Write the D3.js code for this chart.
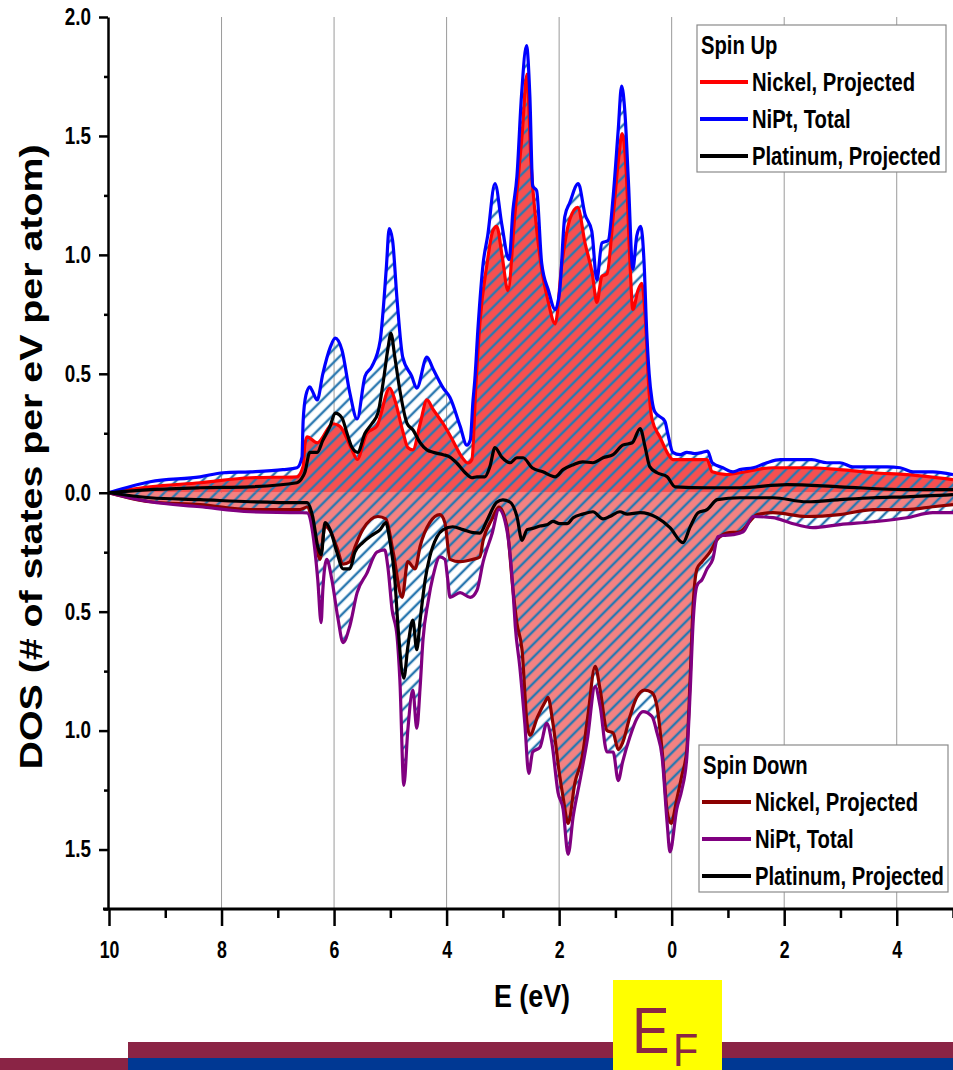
<!DOCTYPE html>
<html><head><meta charset="utf-8">
<script src="https://cdn.jsdelivr.net/npm/d3@7"></script>
<style>body{margin:0;background:#fff}svg{display:block}</style>
</head><body>
<svg id="chart" width="953" height="1070"></svg>
<script>
// ---------- DATA (E in eV, DOS in states/eV/atom; spin down negative) ----------
const upTotal = [[-10,0],[-9.27,0.046],[-8.38,0.067],[-7.97,0.084],[-7.49,0.088],[-6.91,0.097],[-6.66,0.105],[-6.57,0.15],[-6.55,0.30],[-6.50,0.41],[-6.43,0.445],[-6.39,0.43],[-6.30,0.39],[-6.20,0.50],[-6.07,0.61],[-5.98,0.65],[-5.86,0.60],[-5.72,0.42],[-5.59,0.31],[-5.45,0.49],[-5.33,0.53],[-5.18,0.64],[-5.13,0.76],[-5.07,0.95],[-5.02,1.11],[-4.96,1.06],[-4.88,0.81],[-4.78,0.57],[-4.62,0.49],[-4.53,0.44],[-4.35,0.57],[-4.24,0.52],[-4.06,0.44],[-3.94,0.40],[-3.76,0.28],[-3.64,0.20],[-3.58,0.22],[-3.53,0.39],[-3.50,0.47],[-3.44,0.70],[-3.35,0.965],[-3.27,1.08],[-3.14,1.30],[-3.02,1.13],[-2.89,0.98],[-2.82,1.19],[-2.75,1.33],[-2.67,1.665],[-2.58,1.88],[-2.52,1.665],[-2.47,1.29],[-2.40,1.27],[-2.31,0.965],[-2.19,0.85],[-2.07,0.77],[-1.99,0.85],[-1.90,1.16],[-1.81,1.22],[-1.66,1.30],[-1.54,1.17],[-1.42,1.10],[-1.33,0.895],[-1.24,1.05],[-1.13,1.06],[-1.04,1.245],[-0.95,1.525],[-0.89,1.71],[-0.83,1.595],[-0.77,1.315],[-0.69,0.94],[-0.62,1.08],[-0.55,1.12],[-0.49,0.965],[-0.445,0.685],[-0.40,0.50],[-0.35,0.39],[-0.30,0.34],[-0.12,0.30],[-0.07,0.25],[0.02,0.17],[0.15,0.16],[0.27,0.17],[0.41,0.165],[0.55,0.17],[0.64,0.175],[0.72,0.126],[0.91,0.105],[1.09,0.088],[1.21,0.097],[1.45,0.105],[1.69,0.126],[1.93,0.139],[2.16,0.139],[2.49,0.139],[2.76,0.126],[2.99,0.126],[3.22,0.109],[3.52,0.109],[3.83,0.109],[4.06,0.105],[4.29,0.088],[4.64,0.088],[5.0,0.076]];
const upNickel = [[-10,0],[-9.27,0.025],[-8.38,0.042],[-7.49,0.063],[-6.66,0.067],[-6.55,0.11],[-6.52,0.20],[-6.48,0.235],[-6.30,0.21],[-6.02,0.29],[-5.90,0.28],[-5.68,0.18],[-5.59,0.14],[-5.42,0.25],[-5.24,0.28],[-5.01,0.44],[-4.92,0.39],[-4.78,0.26],[-4.69,0.19],[-4.60,0.18],[-4.47,0.29],[-4.35,0.39],[-4.24,0.35],[-4.06,0.29],[-3.89,0.22],[-3.73,0.15],[-3.62,0.125],[-3.55,0.14],[-3.48,0.45],[-3.41,0.71],[-3.28,0.965],[-3.18,1.10],[-3.11,1.12],[-3.01,0.99],[-2.91,0.85],[-2.79,1.16],[-2.66,1.50],[-2.57,1.76],[-2.50,1.39],[-2.43,1.18],[-2.31,0.94],[-2.20,0.81],[-2.07,0.71],[-1.95,0.965],[-1.81,1.15],[-1.67,1.20],[-1.54,1.05],[-1.41,0.92],[-1.33,0.80],[-1.24,0.91],[-1.15,0.92],[-1.04,1.16],[-0.95,1.39],[-0.88,1.51],[-0.81,1.36],[-0.74,0.965],[-0.69,0.77],[-0.60,0.85],[-0.53,0.88],[-0.47,0.74],[-0.40,0.42],[-0.35,0.31],[-0.21,0.235],[-0.03,0.15],[0.02,0.139],[0.63,0.139],[0.72,0.088],[0.98,0.076],[1.21,0.084],[1.80,0.105],[2.40,0.105],[2.99,0.097],[3.58,0.084],[4.18,0.076],[5.0,0.055]];
const upPlatinum = [[-10,0],[-9.27,0.013],[-8.38,0.021],[-7.49,0.025],[-6.66,0.042],[-6.55,0.07],[-6.52,0.085],[-6.43,0.17],[-6.30,0.17],[-6.20,0.22],[-6.07,0.28],[-5.98,0.335],[-5.86,0.315],[-5.77,0.25],[-5.68,0.19],[-5.58,0.17],[-5.45,0.25],[-5.33,0.29],[-5.22,0.335],[-5.13,0.46],[-5.04,0.61],[-4.99,0.67],[-4.92,0.57],[-4.83,0.43],[-4.70,0.29],[-4.60,0.265],[-4.47,0.21],[-4.35,0.18],[-4.24,0.17],[-4.06,0.16],[-3.94,0.15],[-3.82,0.125],[-3.67,0.084],[-3.55,0.063],[-3.46,0.067],[-3.32,0.067],[-3.23,0.11],[-3.14,0.19],[-3.02,0.15],[-2.87,0.126],[-2.75,0.147],[-2.64,0.147],[-2.48,0.105],[-2.29,0.088],[-2.07,0.067],[-1.93,0.097],[-1.75,0.118],[-1.58,0.13],[-1.40,0.126],[-1.22,0.147],[-1.04,0.16],[-0.87,0.20],[-0.70,0.21],[-0.56,0.27],[-0.47,0.19],[-0.39,0.11],[-0.26,0.084],[-0.08,0.067],[0.06,0.025],[0.63,0.021],[1.21,0.021],[2.05,0.034],[2.99,0.025],[4.18,0.013],[5.0,0.013]];
const downTotal = [[-10,0],[-9.27,-0.038],[-8.38,-0.059],[-7.49,-0.08],[-6.61,-0.084],[-6.48,-0.085],[-6.38,-0.168],[-6.29,-0.365],[-6.23,-0.546],[-6.20,-0.41],[-6.13,-0.28],[-6.04,-0.365],[-5.93,-0.53],[-5.84,-0.63],[-5.72,-0.56],[-5.59,-0.42],[-5.42,-0.34],[-5.24,-0.25],[-5.10,-0.24],[-5.04,-0.32],[-4.97,-0.49],[-4.88,-0.605],[-4.83,-0.79],[-4.76,-1.23],[-4.69,-1.0],[-4.60,-0.83],[-4.53,-0.99],[-4.47,-0.815],[-4.42,-0.62],[-4.33,-0.46],[-4.24,-0.35],[-4.12,-0.27],[-4.03,-0.28],[-3.98,-0.365],[-3.94,-0.44],[-3.76,-0.42],[-3.58,-0.44],[-3.46,-0.41],[-3.35,-0.29],[-3.19,-0.17],[-3.07,-0.07],[-2.93,-0.155],[-2.82,-0.41],[-2.78,-0.56],[-2.70,-0.73],[-2.61,-0.97],[-2.54,-1.18],[-2.47,-1.09],[-2.34,-1.07],[-2.22,-0.97],[-2.13,-1.05],[-2.02,-1.26],[-1.93,-1.33],[-1.84,-1.52],[-1.75,-1.36],[-1.63,-1.21],[-1.50,-1.04],[-1.36,-0.815],[-1.27,-0.90],[-1.15,-1.09],[-1.04,-1.09],[-0.95,-1.21],[-0.87,-1.13],[-0.74,-1.025],[-0.62,-0.95],[-0.51,-0.92],[-0.35,-0.94],[-0.26,-1.01],[-0.17,-1.11],[-0.08,-1.39],[-0.03,-1.51],[0.09,-1.33],[0.18,-1.25],[0.27,-1.11],[0.33,-0.83],[0.38,-0.55],[0.45,-0.39],[0.54,-0.365],[0.63,-0.32],[0.73,-0.28],[0.82,-0.185],[0.91,-0.18],[1.09,-0.176],[1.27,-0.164],[1.45,-0.10],[1.80,-0.105],[2.10,-0.126],[2.51,-0.147],[2.99,-0.134],[3.58,-0.122],[4.18,-0.105],[4.64,-0.084],[5.0,-0.084]];
const downNickel = [[-10,0],[-9.27,-0.038],[-8.38,-0.05],[-7.49,-0.071],[-6.61,-0.071],[-6.48,-0.06],[-6.38,-0.126],[-6.25,-0.28],[-6.16,-0.14],[-6.07,-0.16],[-5.95,-0.23],[-5.84,-0.30],[-5.72,-0.29],[-5.63,-0.23],[-5.49,-0.155],[-5.22,-0.10],[-5.08,-0.11],[-4.95,-0.25],[-4.79,-0.44],[-4.69,-0.29],[-4.56,-0.32],[-4.47,-0.225],[-4.30,-0.126],[-4.12,-0.092],[-4.03,-0.126],[-3.94,-0.28],[-3.76,-0.29],[-3.53,-0.28],[-3.41,-0.27],[-3.35,-0.20],[-3.19,-0.11],[-3.07,-0.06],[-2.93,-0.14],[-2.82,-0.41],[-2.75,-0.55],[-2.66,-0.66],[-2.57,-0.97],[-2.52,-1.02],[-2.38,-0.94],[-2.25,-0.88],[-2.20,-0.86],[-2.11,-0.97],[-1.99,-1.19],[-1.93,-1.28],[-1.84,-1.39],[-1.72,-1.22],[-1.59,-1.11],[-1.49,-0.94],[-1.36,-0.73],[-1.27,-0.83],[-1.15,-1.00],[-1.04,-1.01],[-0.95,-1.08],[-0.87,-1.05],[-0.74,-0.94],[-0.62,-0.86],[-0.48,-0.83],[-0.35,-0.84],[-0.26,-0.90],[-0.16,-1.11],[-0.08,-1.34],[-0.01,-1.39],[0.09,-1.29],[0.18,-1.19],[0.27,-1.08],[0.33,-0.77],[0.38,-0.48],[0.45,-0.32],[0.54,-0.29],[0.68,-0.25],[0.80,-0.20],[0.98,-0.17],[1.21,-0.164],[1.52,-0.092],[1.80,-0.084],[2.40,-0.10],[2.99,-0.092],[3.58,-0.071],[4.18,-0.071],[4.64,-0.059],[5.0,-0.05]];
const downPlatinum = [[-10,0],[-9.27,-0.021],[-8.38,-0.029],[-7.49,-0.038],[-6.61,-0.042],[-6.48,-0.042],[-6.38,-0.10],[-6.29,-0.225],[-6.23,-0.26],[-6.16,-0.126],[-6.07,-0.155],[-5.95,-0.25],[-5.84,-0.32],[-5.72,-0.32],[-5.63,-0.25],[-5.49,-0.21],[-5.31,-0.176],[-5.18,-0.155],[-5.08,-0.126],[-5.01,-0.20],[-4.92,-0.365],[-4.86,-0.575],[-4.76,-0.78],[-4.69,-0.65],[-4.60,-0.535],[-4.53,-0.66],[-4.47,-0.535],[-4.38,-0.365],[-4.30,-0.27],[-4.17,-0.185],[-4.06,-0.155],[-3.89,-0.143],[-3.71,-0.155],[-3.53,-0.168],[-3.41,-0.17],[-3.27,-0.11],[-3.11,-0.04],[-3.00,-0.03],[-2.87,-0.04],[-2.75,-0.10],[-2.66,-0.20],[-2.57,-0.155],[-2.47,-0.15],[-2.34,-0.14],[-2.22,-0.135],[-2.11,-0.12],[-1.99,-0.13],[-1.86,-0.13],[-1.75,-0.105],[-1.58,-0.09],[-1.40,-0.08],[-1.22,-0.11],[-1.10,-0.10],[-0.92,-0.08],[-0.79,-0.09],[-0.56,-0.084],[-0.26,-0.105],[-0.03,-0.147],[0.20,-0.21],[0.33,-0.143],[0.47,-0.084],[0.63,-0.071],[0.81,-0.029],[1.21,-0.021],[1.80,-0.021],[2.40,-0.038],[2.99,-0.029],[3.58,-0.021],[4.18,-0.017],[5.0,-0.008]];

const xMajorTicks = [-10,-8,-6,-4,-2,0,2,4];
const xMinorTicks = [-9,-7,-5,-3,-1,1,3,5];
const yMajorTicks = [-1.5,-1.0,-0.5,0,0.5,1.0,1.5,2.0];
const yMinorTicks = [-1.75,-1.25,-0.75,-0.25,0.25,0.75,1.25,1.75];
const legendUpLabels = ["Nickel, Projected","NiPt, Total","Platinum, Projected"];
const legendDownLabels = ["Nickel, Projected","NiPt, Total","Platinum, Projected"];
const xTitle = "E (eV)";
const yTitle = "DOS (# of states per eV per atom)";

// ---------- STYLE ----------
const sans = "'Liberation Sans',Arial,sans-serif";
const cUpNi = "#ff0000", cUpTot = "#0000ff", cPt = "#000000";
const cDnNi = "#8b0000", cDnTot = "#800080";
const fillUp = "rgb(246,80,80)", fillDn = "rgb(243,130,130)";
const hatchColor = "#2b78b0";
const maroon = "#8a2445", navy = "#003893";

// squeeze text horizontally (about its x anchor) to imitate a narrow font
function condense(sel, f){
  sel.each(function(){
    const ax = +(this.getAttribute("x") || 0);
    const prev = this.getAttribute("transform") || "";
    this.setAttribute("transform", `${prev} translate(${ax},0) scale(${f},1) translate(${-ax},0)`);
  });
}

const svg = d3.select("#chart");
const L = 109, R = 953, T = 17, B = 909;
const x = d3.scaleLinear().domain([-10,5]).range([L,R]);
const y = d3.scaleLinear().domain([-1.75,2.0]).range([B,T]);

const defs = svg.append("defs");
const pat = defs.append("pattern").attr("id","hatch").attr("patternUnits","userSpaceOnUse")
  .attr("width",9.2).attr("height",9.2).attr("patternTransform","rotate(45)");
pat.append("line").attr("x1",4.6).attr("y1",-1).attr("x2",4.6).attr("y2",10.2)
  .attr("stroke",hatchColor).attr("stroke-width",2.4);
defs.append("clipPath").attr("id","plotclip").append("rect")
  .attr("x",L).attr("y",T-5).attr("width",R-L).attr("height",B-T+5);

// gridlines
svg.append("g").selectAll("line").data(xMajorTicks.filter(d=>d>-10)).join("line")
  .attr("x1",d=>x(d)).attr("x2",d=>x(d)).attr("y1",T).attr("y2",B)
  .attr("stroke","#9a9a9a").attr("stroke-width",1);

const plot = svg.append("g").attr("clip-path","url(#plotclip)");
const curve = d3.curveMonotoneX;
const area = d3.area().x(d=>x(d[0])).y0(y(0)).y1(d=>y(d[1])).curve(curve);
const line = d3.line().x(d=>x(d[0])).y(d=>y(d[1])).curve(curve);

plot.append("path").datum(upNickel).attr("d",area).attr("fill",fillUp);
plot.append("path").datum(downNickel).attr("d",area).attr("fill",fillDn);
plot.append("path").datum(upTotal).attr("d",area).attr("fill","url(#hatch)");
plot.append("path").datum(downTotal).attr("d",area).attr("fill","url(#hatch)");

const series = [
  [upNickel,cUpNi],[downNickel,cDnNi],[upTotal,cUpTot],[downTotal,cDnTot],[upPlatinum,cPt],[downPlatinum,cPt]
];
series.forEach(([d,c])=>{
  plot.append("path").datum(d).attr("d",line).attr("fill","none")
    .attr("stroke",c).attr("stroke-width",3.2).attr("stroke-linejoin","round");
});

// ---------- AXES ----------
const fmtY = d=>Math.abs(d).toFixed(1);
const yAx = svg.append("g").attr("transform",`translate(${L-1},0)`)
  .call(d3.axisLeft(y).tickValues(yMajorTicks).tickFormat(fmtY).tickSize(9).tickSizeOuter(0).tickPadding(8));
const yAxMin = svg.append("g").attr("transform",`translate(${L-1},0)`)
  .call(d3.axisLeft(y).tickValues(yMinorTicks).tickFormat("").tickSize(4).tickSizeOuter(0));
[yAx,yAxMin].forEach(g=>{
  g.select(".domain").attr("stroke-width",2.5);
  g.selectAll(".tick line").attr("stroke-width",2.5);
});
yAx.selectAll("text").attr("font-family",sans).attr("font-weight","bold").attr("font-size",23).attr("fill","#000");
condense(yAx.selectAll("text"),0.82);
yAxMin.select(".domain").remove();

const xAx = svg.append("g").attr("transform",`translate(0,${B})`)
  .call(d3.axisBottom(x).tickValues(xMajorTicks).tickFormat(d=>Math.abs(d)).tickSize(17).tickSizeOuter(0).tickPadding(15));
const xAxMin = svg.append("g").attr("transform",`translate(0,${B})`)
  .call(d3.axisBottom(x).tickValues(xMinorTicks).tickFormat("").tickSize(9).tickSizeOuter(0));
xAx.select(".domain").remove(); xAxMin.select(".domain").remove();
[xAx,xAxMin].forEach(g=>g.selectAll(".tick line").attr("stroke-width",2.5));
xAx.selectAll("text").attr("font-family",sans).attr("font-weight","bold").attr("font-size",24).attr("fill","#000");
condense(xAx.selectAll("text"),0.74);
svg.append("line").attr("x1",L-6).attr("x2",R).attr("y1",B).attr("y2",B).attr("stroke","#000").attr("stroke-width",3);

// ---------- TITLES ----------
const xt = svg.append("text").attr("x",532).attr("y",1007).attr("text-anchor","middle")
  .attr("font-family",sans).attr("font-weight","bold").attr("font-size",32).text(xTitle);
condense(xt,0.84);
svg.append("text").attr("transform","translate(42,457) rotate(-90)").attr("text-anchor","middle")
  .attr("font-family",sans).attr("font-weight","bold").attr("font-size",31)
  .attr("textLength",625).attr("lengthAdjust","spacingAndGlyphs").text(yTitle);

// ---------- LEGENDS ----------
function legend(x0,y0,w,h,title,labels,colors,textX){
  const g = svg.append("g");
  g.append("rect").attr("x",x0).attr("y",y0).attr("width",w).attr("height",h)
    .attr("fill","#fff").attr("stroke","#8a8a8a").attr("stroke-width",1.2);
  const t = g.append("text").attr("x",x0+4).attr("y",y0+29).attr("font-family",sans).attr("font-weight","bold")
    .attr("font-size",25).text(title);
  condense(t,0.81);
  labels.forEach((lab,i)=>{
    const by = y0+66+i*37;
    g.append("line").attr("x1",x0+3).attr("x2",textX-4).attr("y1",by-9).attr("y2",by-9)
      .attr("stroke",colors[i]).attr("stroke-width",4);
    const tt = g.append("text").attr("x",textX).attr("y",by).attr("font-family",sans).attr("font-weight","bold")
      .attr("font-size",25).text(lab);
    condense(tt,0.81);
  });
}
legend(697,25,249,147,"Spin Up",legendUpLabels,[cUpNi,cUpTot,cPt],752);
legend(699,745,249,147,"Spin Down",legendDownLabels,[cDnNi,cDnTot,cPt],755);

// ---------- BOTTOM DECORATION ----------
svg.append("rect").attr("x",0).attr("y",1058).attr("width",128).attr("height",12).attr("fill",maroon);
svg.append("rect").attr("x",128).attr("y",1042).attr("width",825).attr("height",16).attr("fill",maroon);
svg.append("rect").attr("x",128).attr("y",1058).attr("width",825).attr("height",12).attr("fill",navy);
svg.append("rect").attr("x",613).attr("y",980).attr("width",109).attr("height",90).attr("fill","#ffff00");
const eT = svg.append("text").attr("x",632).attr("y",1053).attr("font-family",sans)
  .attr("font-size",64).attr("fill",maroon).text("E");
condense(eT,0.88);
const fT = svg.append("text").attr("x",673).attr("y",1066).attr("font-family",sans)
  .attr("font-size",46).attr("fill",maroon).text("F");
condense(fT,0.9);
</script>
</body></html>
